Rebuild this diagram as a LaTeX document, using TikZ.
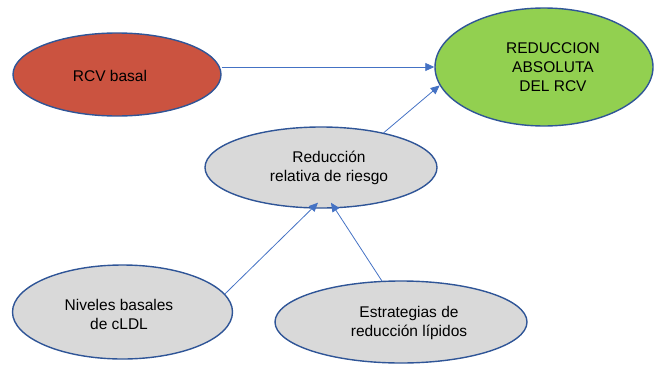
\documentclass[tikz,border=0pt]{standalone}
\usepackage{fontspec}
\setmainfont{Liberation Sans}
\usetikzlibrary{shapes.geometric,arrows.meta}
\definecolor{redfill}{RGB}{203,83,64}
\definecolor{greenfill}{RGB}{146,208,80}
\definecolor{greyfill}{RGB}{217,217,217}
\definecolor{borderblue}{RGB}{47,85,151}
\definecolor{arrowblue}{RGB}{68,114,196}
\tikzset{
  oval/.style={ellipse, draw=borderblue, line width=1.4pt, inner sep=0pt},
  txt/.style={align=center, font=\fontsize{15.5}{19}\selectfont, text=black, inner sep=0pt},
  conn/.style={draw=arrowblue, line width=0.8pt, -{Triangle[length=9pt,width=8pt]}}
}
\begin{document}
\begin{tikzpicture}[x=1pt,y=-1pt]
\useasboundingbox (0,0) rectangle (660,364);
\node[oval, fill=redfill, minimum width=208pt, minimum height=83pt] (rcv) at (117,74.5) {};
\node[oval, fill=greenfill, minimum width=218pt, minimum height=118pt] (abs) at (544,67) {};
\node[oval, fill=greyfill, minimum width=232pt, minimum height=81pt] (rel) at (321,167.5) {};
\node[oval, fill=greyfill, minimum width=220pt, minimum height=94pt] (niv) at (122.5,312) {};
\node[oval, fill=greyfill, minimum width=252pt, minimum height=82pt] (est) at (401,322) {};
\node[txt] (rcvt) at (110,76) {RCV basal};
\node[txt] (abst) at (553,67) {REDUCCION\\ABSOLUTA\\DEL RCV};
\node[txt] (relt) at (329,168) {Reducción\\relativa de riesgo};
\node[txt] (nivt) at (119,314) {Niveles basales\\de cLDL};
\node[txt] (estt) at (409,323) {Estrategias de\\reducción lípidos};
\draw[conn] (rcv.east |- abs.west) -- (abs.west);
\draw[conn] (rel.29) -- (abs.190);
\draw[conn] (niv.10) -- ([xshift=-3pt,yshift=6pt]rel.south);
\draw[conn] (est.115) -- ([xshift=10pt,yshift=6pt]rel.south);
\end{tikzpicture}
\end{document}
